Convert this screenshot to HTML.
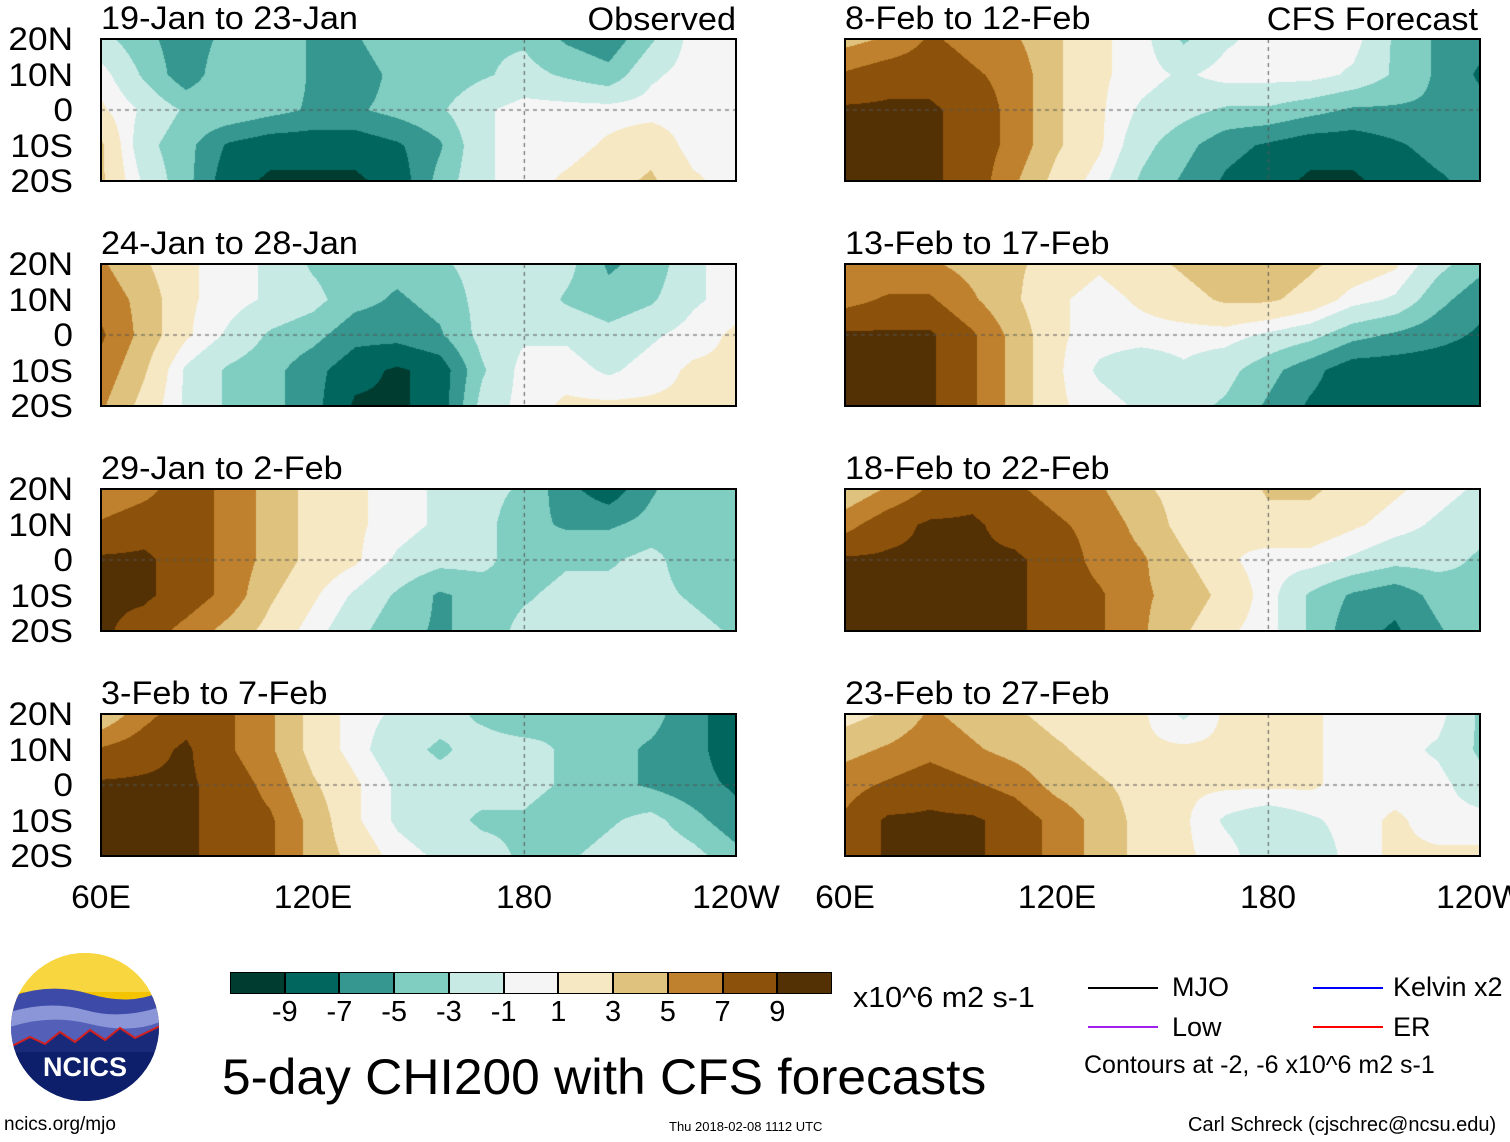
<!DOCTYPE html>
<html><head><meta charset="utf-8">
<style>
body{margin:0;width:1510px;height:1142px;background:#fff;position:relative;overflow:hidden;font-family:"Liberation Sans",sans-serif;color:#000}
.t{position:absolute;white-space:nowrap;line-height:1}
canvas{position:absolute}
.box{position:absolute;border:2px solid #000;box-sizing:border-box}
.lab{position:absolute;font-size:32px;width:70px;text-align:right;line-height:1;transform:scaleX(1.1);transform-origin:right}
</style></head><body>
<div id="root"></div>
<script>
// Panel values (CHI200 anomaly, x10^6 m2 s-1), rows 20N,10N,0,10S,20S; 16 lon columns 60E..120W
const panelTitles=["19-Jan to 23-Jan","24-Jan to 28-Jan","29-Jan to 2-Feb","3-Feb to 7-Feb","8-Feb to 12-Feb","13-Feb to 17-Feb","18-Feb to 22-Feb","23-Feb to 27-Feb"];
const p1=[[-2,-4,-6,-4,-3,-5,-5,-3,-3,-3,-3,-5,-6,-3,0,0],[0,-3,-6,-3,-3,-5,-6,-4,-4,-3,-2,-3,-4,-1,0,0],[1,-1,-3,-3,-4,-5,-5,-4,-3,-1,0,0,0,0,0,0],[3,-2,-4,-7,-8,-8,-8,-7,-5,-1,0,0,1,2,0,0],[3,-1,-4,-8,-9,-9,-9,-8,-4,-1,0,1,2,3,1,0]];
const p2=[[5,3,1,0,-1,-3,-4,-4,-3,-2,-1,-2,-5,-4,-1,0],[6,4,1,0,-1,-2,-4,-5,-4,-2,-1,-3,-4,-3,-1,0],[7,4,1,-1,-3,-4,-6,-6,-5,-2,-1,-1,-2,-1,0,1],[6,3,-1,-3,-4,-6,-8,-9,-8,-3,0,0,-1,0,1,1],[5,2,-1,-3,-4,-6,-9,-9,-8,-2,0,1,1,1,1,1]];
const p3=[[5,6,8,6,4,2,1,0,-1,-2,-3,-6,-8,-5,-3,-3],[7,8,8,6,4,2,1,0,-1,-2,-4,-5,-5,-4,-3,-3],[9,9,8,6,4,2,1,-1,-2,-2,-4,-3,-3,-2,-4,-4],[9,9,8,6,3,1,-1,-3,-5,-4,-3,-2,-2,-2,-3,-4],[9,8,6,4,2,0,-2,-4,-5,-4,-2,-2,-1,-1,-2,-3]];
const p4=[[3,6,8,7,5,2,0,-1,-2,-3,-4,-3,-4,-4,-6,-8],[7,8,9,7,5,2,0,-2,-3,-2,-2,-3,-4,-5,-6,-8],[9,9,9,8,6,3,1,-1,-2,-2,-2,-3,-4,-5,-6,-7],[9,9,9,8,7,4,1,-1,-2,-3,-3,-4,-3,-2,-4,-6],[9,9,9,8,7,4,2,0,-1,-2,-3,-3,-2,-1,-2,-4]];
const p5=[[4,5,7,6,5,3,1,0,-3,-1,0,0,0,-3,-5,-6],[7,8,8,7,6,3,1,0,-1,0,0,0,-1,-3,-5,-7],[9,9,9,8,6,3,1,-1,-2,-3,-3,-4,-5,-5,-5,-6],[9,9,9,8,6,3,1,-2,-4,-6,-7,-8,-8,-7,-6,-6],[9,9,9,8,5,2,0,-3,-5,-7,-8,-9,-9,-8,-7,-6]];
const p6=[[5,5,5,4,3,2,1,2,3,4,4,3,2,1,-2,-4],[6,7,7,5,3,1,0,1,2,3,3,2,0,-1,-4,-6],[9,9,9,7,4,1,0,0,0,0,-1,-2,-4,-5,-6,-7],[9,9,9,7,4,1,-1,-2,-1,-2,-4,-6,-8,-8,-8,-8],[9,9,9,7,4,1,0,-1,-2,-3,-5,-7,-8,-8,-8,-7]];
const p7=[[3,5,7,8,7,6,5,3,2,1,3,3,2,1,0,-1],[6,8,9,9,8,7,6,4,2,1,2,2,1,0,-1,-2],[9,9,9,9,9,8,6,5,3,1,0,0,-1,-2,-2,-3],[9,9,9,9,9,8,7,5,4,2,0,-3,-5,-6,-4,-3],[9,9,9,9,9,8,7,5,3,1,0,-3,-6,-7,-5,-3]];
const p8=[[2,3,5,4,3,2,2,1,-1,1,1,1,0,0,0,-3],[4,5,6,5,4,3,2,1,1,1,1,1,0,0,-1,-3],[6,7,8,7,6,4,3,2,1,1,1,1,0,0,0,-2],[7,9,9,9,8,6,4,2,1,-1,-2,-1,0,1,0,0],[7,9,9,9,8,6,4,2,1,0,-2,-2,0,1,1,1]];
const panelData=[p1,p2,p3,p4,p5,p6,p7,p8];
const latLabels=["20N","10N","0","10S","20S"];
const lonLabels=["60E","120E","180","120W"];
const cbarLabels=["-9","-7","-5","-3","-1","1","3","5","7","9"];
const palette=["#003c30","#01665e","#35978f","#80cdc1","#c7eae5","#f5f5f5","#f6e8c3","#dfc27d","#bf812d","#8c510a","#543005"];

function level(v){const a=Math.abs(v);let s=a<0.7?0:Math.min(5,Math.ceil((a-0.7)/2));return v>=0?5+s:5-s;}
function hex(c){return [parseInt(c.slice(1,3),16),parseInt(c.slice(3,5),16),parseInt(c.slice(5,7),16)];}
const rgb=palette.map(hex);
const root=document.getElementById('root');
function txt(s,x,y,size,extra){const d=document.createElement('div');d.className='t';d.textContent=s;d.style.left=x+'px';d.style.top=y+'px';d.style.fontSize=size+'px';if(extra)Object.assign(d.style,extra);root.appendChild(d);return d;}

const colX=[101,845], W=635, H=142, rowY=[39,264,489,714];
panelData.forEach((g,k)=>{
  const col=k<4?0:1,row=k%4;const x0=colX[col],y0=rowY[row];
  const c=document.createElement('canvas');c.width=W;c.height=H;c.style.left=x0+'px';c.style.top=y0+'px';
  
  
  root.appendChild(c);
  const ctx=c.getContext('2d');const im=ctx.createImageData(W,H);
  const nc=g[0].length,nr=g.length;
  for(let py=0;py<H;py++){const fy=py/(H-1)*(nr-1);const j=Math.min(nr-2,Math.floor(fy));const sy=fy-j;
    for(let px=0;px<W;px++){const fx=px/(W-1)*(nc-1);const i=Math.min(nc-2,Math.floor(fx));const sx=fx-i;
      const v=(g[j][i]*(1-sx)+g[j][i+1]*sx)*(1-sy)+(g[j+1][i]*(1-sx)+g[j+1][i+1]*sx)*sy;
      const cc=rgb[level(v)];const o=(py*W+px)*4;im.data[o]=cc[0];im.data[o+1]=cc[1];im.data[o+2]=cc[2];im.data[o+3]=255;}}
  ctx.putImageData(im,0,0);
  ctx.setLineDash([4,4]);ctx.strokeStyle='#555';ctx.lineWidth=1;
  ctx.beginPath();ctx.moveTo(0,H/2);ctx.lineTo(W,H/2);ctx.moveTo(W*2/3,0);ctx.lineTo(W*2/3,H);ctx.stroke();
  const b=document.createElement('div');b.className='box';b.style.left=(x0-1)+'px';b.style.top=(y0-1)+'px';b.style.width=(W+2)+'px';b.style.height=(H+2)+'px';
  
  
  root.appendChild(b);
  const tt=txt(panelTitles[k],x0,y0-37,32,{transform:'scaleX(1.07)',transformOrigin:'left'});
  
  
  if(col===0){latLabels.forEach((l,j)=>{const d=document.createElement('div');d.className='lab';d.textContent=l;d.style.left='3px';d.style.top=(y0+j*H/4-16)+'px';
    
    
    root.appendChild(d);});}
});
const o1=txt("Observed",736,3,32,{transform:'translateX(-100%) scaleX(1.07)',transformOrigin:'right'});


const o2=txt("CFS Forecast",1478,3,32,{transform:'translateX(-100%) scaleX(1.07)',transformOrigin:'right'});


colX.forEach(x0=>{lonLabels.forEach((l,i)=>{const d=txt(l,x0+i*W/3,881,32,{transform:'translateX(-50%) scaleX(1.05)'});
  
  });});

// colorbar
const cbx=230,cbw=602,cby=972,cbh=22;
palette.forEach((p,i)=>{const d=document.createElement('div');d.style.cssText=`position:absolute;left:${cbx+i*cbw/11}px;top:${cby}px;width:${cbw/11}px;height:${cbh}px;background:${p};box-sizing:border-box;border:1px solid #000`;
  
  
  root.appendChild(d);});
cbarLabels.forEach((l,i)=>{const d=txt(l,cbx+(i+1)*cbw/11,998,29,{transform:'translateX(-50%)'});
  
  });
</script>
<div class="t" style="left:853px;top:984px;font-size:29px;transform:scaleX(1.05);transform-origin:left">x10^6 m2 s-1</div>
<div class="t" style="left:222px;top:1052px;font-size:50px;transform:scaleX(1.03);transform-origin:left">5-day CHI200 with CFS forecasts</div>
<div class="t" style="left:4px;top:1115px;font-size:19px">ncics.org/mjo</div>
<div class="t" style="left:669px;top:1120px;font-size:13px">Thu 2018-02-08 1112 UTC</div>
<div class="t" style="left:1188px;top:1115px;font-size:20px">Carl Schreck (cjschrec@ncsu.edu)</div>
<div>
<div style="position:absolute;left:1088px;top:987px;width:70px;height:2px;background:#000"></div>
<div class="t" style="left:1172px;top:974px;font-size:27px">MJO</div>
<div style="position:absolute;left:1313px;top:987px;width:70px;height:2px;background:#0000ff"></div>
<div class="t" style="left:1393px;top:974px;font-size:27px">Kelvin x2</div>
<div style="position:absolute;left:1088px;top:1026px;width:70px;height:2px;background:#a020f0"></div>
<div class="t" style="left:1172px;top:1014px;font-size:27px">Low</div>
<div style="position:absolute;left:1313px;top:1026px;width:70px;height:2px;background:#ff0000"></div>
<div class="t" style="left:1393px;top:1014px;font-size:27px">ER</div>
<div class="t" style="left:1084px;top:1053px;font-size:25px">Contours at -2, -6 x10^6 m2 s-1</div>
</div>
<svg style="position:absolute;left:10px;top:952px" width="150" height="150" viewBox="0 0 150 150">
<defs><clipPath id="cc"><circle cx="75" cy="75" r="74"/></clipPath></defs>
<g clip-path="url(#cc)">
<rect width="150" height="150" fill="#f5c400"/>
<rect y="0" width="150" height="40" fill="#f7d640"/>
<path d="M0 45 Q40 30 80 42 T150 40 V150 H0Z" fill="#3d4aa8"/>
<path d="M0 60 Q40 48 75 58 T150 55 V150 H0Z" fill="#8b96d8"/>
<path d="M0 75 Q40 62 80 72 T150 70 V150 H0Z" fill="#5460b8"/>
<path d="M0 95 L20 85 L35 92 L50 80 L65 90 L80 78 L95 88 L110 76 L125 86 L150 74 V150 H0Z" fill="#1a2a7a" stroke="#d02020" stroke-width="2"/>
<rect y="100" width="150" height="50" fill="#0d1f6a"/>
</g>
<text x="75" y="124" text-anchor="middle" font-family="Liberation Sans" font-weight="bold" font-size="27" fill="#fff">NCICS</text>
</svg>
</body></html>
